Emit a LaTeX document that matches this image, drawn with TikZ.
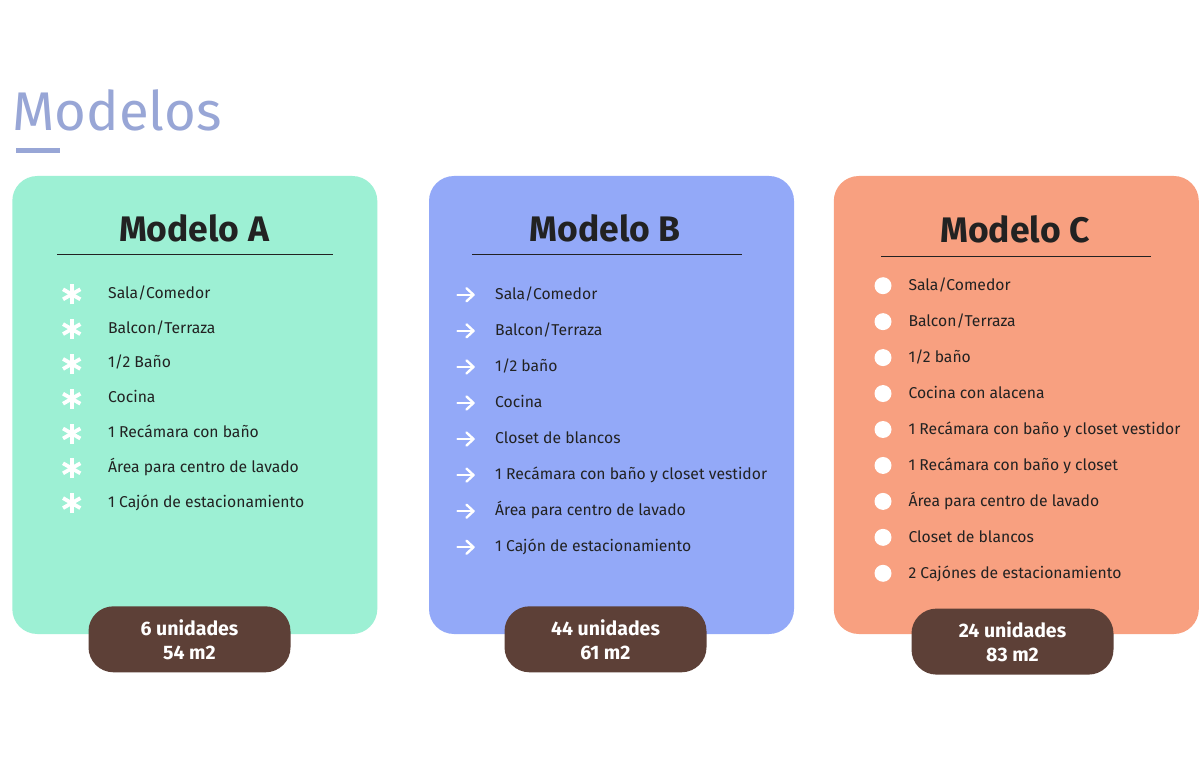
\documentclass[tikz,border=0pt]{standalone}
\usepackage{fontspec}
\setmainfont{Fira Sans}
\usetikzlibrary{calc}
\definecolor{cA}{HTML}{9DF0D4}
\definecolor{cB}{HTML}{93A9F8}
\definecolor{cC}{HTML}{F8A080}
\definecolor{badgec}{HTML}{5D4037}
\definecolor{ttl}{HTML}{98A6D6}
\definecolor{ink}{HTML}{222222}
\begin{document}
\begin{tikzpicture}[x=1pt,y=-1pt,
  card/.style={rounded corners=25pt, minimum width=365pt, minimum height=458pt, inner sep=0pt, draw=none},
  cardtitle/.style={font=\bfseries\fontsize{35.5}{40}\selectfont, text=ink, anchor=base, inner sep=0pt},
  rule/.style={draw=ink, line width=1.3pt},
  itemtext/.style={font=\fontsize{15.7}{18}\selectfont, text=ink, anchor=base west, inner sep=0pt},
  badge/.style={fill=badgec, rounded corners=25pt, minimum width=202pt, minimum height=66pt, inner sep=0pt,
    text=white, font=\bfseries\fontsize{19.5}{24}\selectfont, align=center},
  astk/.style={draw=white, line width=3.8pt},
  arrw/.style={draw=white, line width=2.4pt, line cap=round, line join=round},
]
\useasboundingbox (0,0) rectangle (1200,767);
\fill[white] (0,0) rectangle (1200,767);

% title
\node[font=\fontsize{54.5}{60}\selectfont, text=ttl, anchor=base west, inner sep=0pt] (title) at (12,130.7) {Modelos};
\fill[ttl] (16,148.5) rectangle (60,153.5);

% cards
\node[card, fill=cA] (cardA) at (194.8,405) {};
\node[card, fill=cB] (cardB) at (611.5,405) {};
\node[card, fill=cC] (cardC) at (1016.3,405) {};

% card titles
\node[cardtitle] (tA) at (194,241.7) {Modelo A};
\draw[rule] (57.3,254.3) -- (332.7,254.3);
\node[cardtitle] (tB) at (605,241.7) {Modelo B};
\draw[rule] (472,254.3) -- (742,254.3);
\node[cardtitle] (tC) at (1015,242.7) {Modelo C};
\draw[rule] (881,256.5) -- (1151,256.5);

% card A items
\foreach \t [count=\i from 0] in {{Sala/Comedor},{Balcon/Terraza},{1/2 Baño},{Cocina},{1 Recámara con baño},{Área para centro de lavado},{1 Cajón de estacionamiento}}{
  \pgfmathsetmacro{\yy}{298.3+34.8*\i}
  \node[itemtext] (a\i) at (108,\yy) {\t};
  \foreach \ang in {90,30,150}{
    \draw[astk] ($(71.7,\yy-4)+(\ang:10)$) -- ($(71.7,\yy-4)-(\ang:10)$);
  }
}

% card B items
\foreach \t [count=\i from 0] in {{Sala/Comedor},{Balcon/Terraza},{1/2 baño},{Cocina},{Closet de blancos},{1 Recámara con baño y closet vestidor},{Área para centro de lavado},{1 Cajón de estacionamiento}}{
  \pgfmathsetmacro{\yy}{299.3+36.06*\i}
  \node[itemtext] (b\i) at (495,\yy) {\t};
  \draw[arrw] (457.5,\yy-4.5) -- (473.5,\yy-4.5);
  \draw[arrw] (466.5,\yy-11) -- (473.5,\yy-4.5) -- (466.5,\yy+2);
}

% card C items
\foreach \t [count=\i from 0] in {{Sala/Comedor},{Balcon/Terraza},{1/2 baño},{Cocina con alacena},{1 Recámara con baño y closet vestidor},{1 Recámara con baño y closet},{Área para centro de lavado},{Closet de blancos},{2 Cajónes de estacionamiento}}{
  \pgfmathsetmacro{\yy}{290.7+35.95*\i}
  \node[itemtext] (c\i) at (908.3,\yy) {\t};
  \fill[white] (883,\yy-5) circle (8.5);
}

% badges
\node[badge] (bA) at (189.5,639.3) {6 unidades\\54 m2};
\node[badge] (bB) at (605.5,639.3) {44 unidades\\61 m2};
\node[badge] (bC) at (1012.5,641.6) {24 unidades\\83 m2};
\end{tikzpicture}
\end{document}
